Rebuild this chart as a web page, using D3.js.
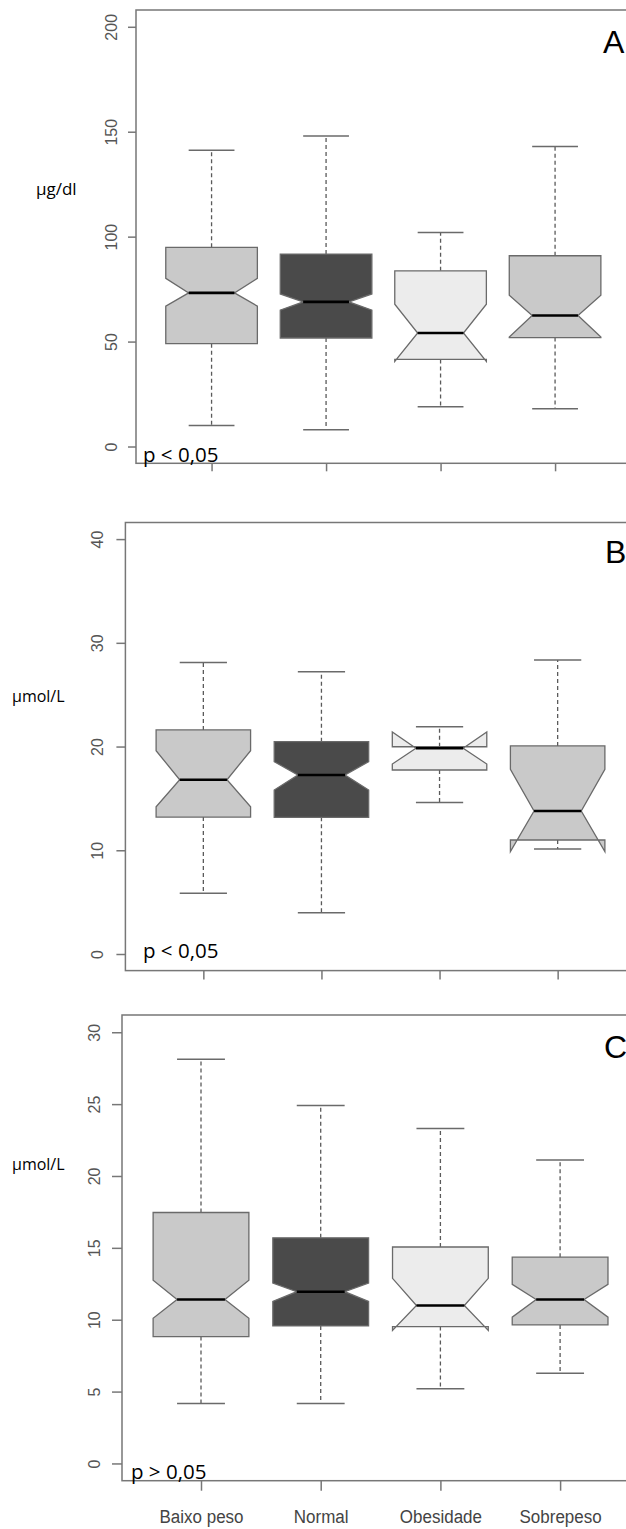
<!DOCTYPE html>
<html>
<head>
<meta charset="utf-8">
<script src="https://cdn.jsdelivr.net/npm/d3@7"></script>
<style>
  html, body { margin: 0; padding: 0; background: #fff; }
  svg { display: block; }
</style>
</head>
<body>
<svg id="chart" width="626" height="1529"></svg>
<script>
// ---------------- DATA ----------------
const categories = ["Baixo peso", "Normal", "Obesidade", "Sobrepeso"];
const panelLetters = ["A", "B", "C"];
const unitLabels = ["μg/dl", "μmol/L", "μmol/L"];
const pLabels = ["p < 0,05", "p < 0,05", "p > 0,05"];
const yMax = [200, 40, 30];
const yTicksA = [0, 50, 100, 150, 200];
const yTicksB = [0, 10, 20, 30, 40];
const yTicksC = [0, 5, 10, 15, 20, 25, 30];

// Panel A (μg/dl)
const A_whiskerLow  = [10.0, 8.0, 19.0, 18.0];
const A_q1          = [49.0, 51.7, 41.5, 51.9];
const A_notchLow    = [66.9, 65.0, 40.6, 52.2];
const A_median      = [73.2, 68.9, 54.1, 62.4];
const A_notchHigh   = [80.1, 72.7, 67.8, 72.1];
const A_q3          = [94.9, 91.7, 83.7, 90.9];
const A_whiskerHigh = [141.2, 148.0, 102.0, 142.9];

// Panel B (μmol/L)
const B_whiskerLow  = [5.85, 3.98, 14.6, 10.13];
const B_q1          = [13.2, 13.18, 17.74, 10.99];
const B_notchLow    = [14.2, 15.81, 18.32, 9.87];
const B_median      = [16.8, 17.26, 19.83, 13.79];
const B_notchHigh   = [19.6, 18.54, 21.4, 17.81];
const B_q3          = [21.6, 20.47, 19.98, 20.06];
const B_whiskerHigh = [28.1, 27.2, 21.9, 28.35];

// Panel C (μmol/L)
const C_whiskerLow  = [4.17, 4.17, 5.2, 6.28];
const C_q1          = [8.83, 9.57, 9.52, 9.64];
const C_notchLow    = [10.1, 11.28, 9.25, 10.18];
const C_median      = [11.41, 11.95, 10.99, 11.41];
const C_notchHigh   = [12.75, 12.55, 12.88, 12.46];
const C_q3          = [17.46, 15.7, 15.06, 14.35];
const C_whiskerHigh = [28.13, 24.9, 23.3, 21.12];

const fills = ["#c9c9c9", "#4a4a4a", "#ececec", "#c9c9c9"];

// ---------------- BUILD ----------------
const panelsData = [
  {lo: A_whiskerLow, q1: A_q1, nlo: A_notchLow, med: A_median, nhi: A_notchHigh, q3: A_q3, hi: A_whiskerHigh, ticks: yTicksA},
  {lo: B_whiskerLow, q1: B_q1, nlo: B_notchLow, med: B_median, nhi: B_notchHigh, q3: B_q3, hi: B_whiskerHigh, ticks: yTicksB},
  {lo: C_whiskerLow, q1: C_q1, nlo: C_notchLow, med: C_median, nhi: C_notchHigh, q3: C_q3, hi: C_whiskerHigh, ticks: yTicksC}
];

// layout (pixel frames of each panel)
const layout = [
  {left: 136,   top: 10,    bottom: 463.3,  unit: 114.5, labOff: 19, unitX: 36, unitY: 195, pX: 143, pY: 461.5, letterX: 603, letterY: 53, tick: 8},
  {left: 125.4, top: 522.5, bottom: 970.6,  unit: 118.1, labOff: 22, unitX: 12, unitY: 702, pX: 143, pY: 958,   letterX: 605, letterY: 562.7, tick: 9},
  {left: 122,   top: 1015,  bottom: 1480.7, unit: 119.7, labOff: 22, unitX: 12, unitY: 1170, pX: 131, pY: 1479, letterX: 604, letterY: 1058, tick: 10}
];

const svg = d3.select("#chart");
const boxwex = 0.4, staple = 0.2, notchFrac = 0.5;
const strokeCol = "#6a6a6a";

panelsData.forEach((pd, pi) => {
  const L = layout[pi];
  const x = d3.scaleLinear().domain([0.34, 4.66]).range([L.left, L.left + L.unit * 4.32]);
  const m = yMax[pi];
  const y = d3.scaleLinear().domain([-0.04 * m, 1.04 * m]).range([L.bottom, L.top]);
  const g = svg.append("g");

  // boxes
  categories.forEach((c, i) => {
    const cx = i + 1;
    const w = boxwex;
    // whiskers (dashed)
    g.append("line").attr("x1", x(cx)).attr("x2", x(cx))
      .attr("y1", y(pd.q3[i])).attr("y2", y(pd.hi[i]))
      .attr("stroke", "#5a5a5a").attr("stroke-width", 1.3).attr("stroke-dasharray", "4,3");
    g.append("line").attr("x1", x(cx)).attr("x2", x(cx))
      .attr("y1", y(pd.q1[i])).attr("y2", y(pd.lo[i]))
      .attr("stroke", "#5a5a5a").attr("stroke-width", 1.3).attr("stroke-dasharray", "4,3");
    // staples
    [pd.hi[i], pd.lo[i]].forEach(v => {
      g.append("line").attr("x1", x(cx - staple)).attr("x2", x(cx + staple))
        .attr("y1", y(v)).attr("y2", y(v))
        .attr("stroke", strokeCol).attr("stroke-width", 1.5);
    });
    // notched box polygon (R bxp style)
    const xs = [-1, 1, 1, notchFrac, 1, 1, -1, -1, -notchFrac, -1].map(k => x(cx + k * w));
    const ys = [pd.q1[i], pd.q1[i], pd.nlo[i], pd.med[i], pd.nhi[i], pd.q3[i], pd.q3[i], pd.nhi[i], pd.med[i], pd.nlo[i]].map(v => y(v));
    const pts = xs.map((xx, k) => [xx, ys[k]]);
    g.append("polygon")
      .attr("points", pts.map(p => p.join(",")).join(" "))
      .attr("fill", fills[i]).attr("stroke", strokeCol).attr("stroke-width", 1.3)
      .attr("stroke-linejoin", "miter");
    // median
    g.append("line").attr("x1", x(cx - notchFrac * w)).attr("x2", x(cx + notchFrac * w))
      .attr("y1", y(pd.med[i])).attr("y2", y(pd.med[i]))
      .attr("stroke", "#000").attr("stroke-width", 2.6);
  });

  // frame
  g.append("rect").attr("x", L.left).attr("y", L.top)
    .attr("width", L.unit * 4.32).attr("height", L.bottom - L.top)
    .attr("fill", "none").attr("stroke", "#777").attr("stroke-width", 1.5);

  // y axis
  const yAxis = d3.axisLeft(y).tickValues(pd.ticks).tickSize(L.tick).tickSizeOuter(0);
  const ya = svg.append("g").attr("transform", `translate(${L.left},0)`).call(yAxis);
  ya.select(".domain").remove();
  ya.selectAll(".tick line").attr("stroke", "#777").attr("stroke-width", 1.5);
  ya.selectAll(".tick text")
    .attr("transform", "rotate(-90)")
    .attr("x", 0).attr("y", -L.labOff).attr("dy", 0)
    .attr("text-anchor", "middle")
    .attr("fill", "#555")
    .style("font-family", "'Liberation Sans', Arial, sans-serif")
    .style("font-size", "16px");

  // x axis
  const xAxis = d3.axisBottom(x).tickValues([1, 2, 3, 4]).tickSize(L.tick).tickSizeOuter(0)
    .tickFormat(d => pi === 2 ? categories[d - 1] : "");
  const xa = svg.append("g").attr("transform", `translate(0,${L.bottom})`).call(xAxis);
  xa.select(".domain").remove();
  xa.selectAll(".tick line").attr("stroke", "#777").attr("stroke-width", 1.5);
  xa.selectAll(".tick text")
    .attr("y", 0).attr("dy", 0)
    .attr("transform", "translate(0,42) scale(1,1.12)")
    .attr("text-anchor", "middle")
    .attr("fill", "#444")
    .style("font-family", "'Liberation Sans', Arial, sans-serif")
    .style("font-size", "17px");

  // unit label
  svg.append("text").attr("x", L.unitX).attr("y", L.unitY)
    .text(unitLabels[pi])
    .style("font-family", "'Open Sans', 'Noto Sans', sans-serif")
    .style("font-size", pi === 0 ? "17px" : "16px").attr("fill", "#000");

  // p label
  svg.append("text").attr("x", L.pX).attr("y", L.pY)
    .text(pLabels[pi])
    .style("font-family", "'Open Sans', 'Noto Sans', sans-serif")
    .style("font-size", "20.5px").attr("fill", "#000");

  // panel letter
  svg.append("text").attr("x", L.letterX).attr("y", L.letterY)
    .text(panelLetters[pi])
    .style("font-family", "'Liberation Sans', Arial, sans-serif")
    .style("font-size", "32px").attr("fill", "#000");
});
</script>
</body>
</html>
